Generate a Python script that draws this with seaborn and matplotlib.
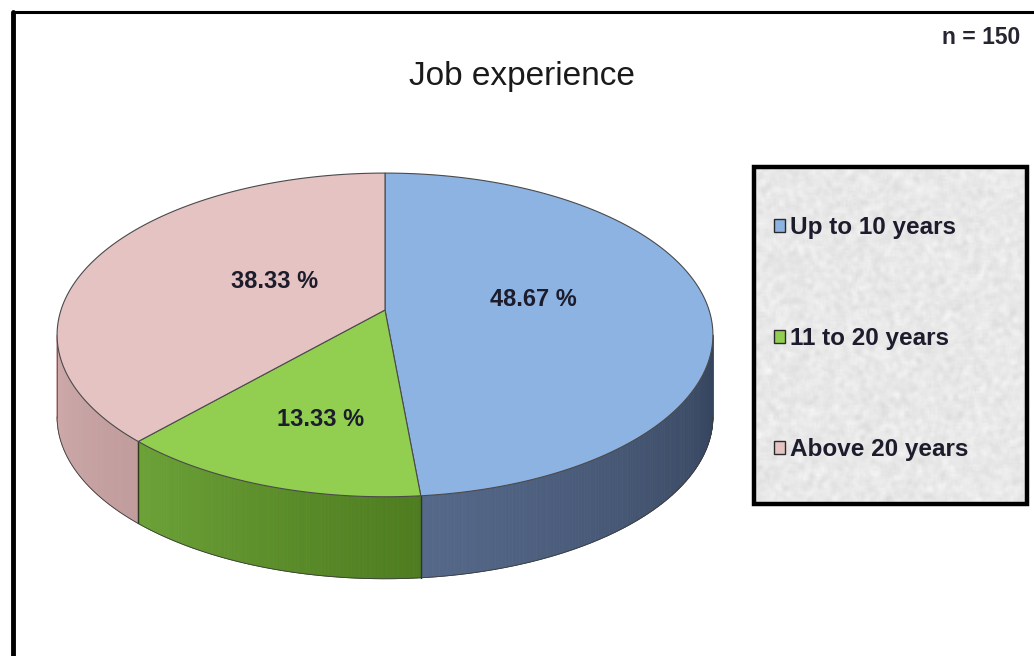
import numpy as np
import matplotlib
matplotlib.use("Agg")
import matplotlib.pyplot as plt
import seaborn as sns
from matplotlib.patches import Polygon, Rectangle, Patch
from matplotlib.colors import to_rgb

# Job experience of respondents (n = 150)
categories = ["Up to 10 years", "11 to 20 years", "Above 20 years"]
shares = [48.67, 13.33, 38.33]
top_colors = ["#8db3e2", "#92cf50", "#e5c3c3"]
side_light = ["#56698a", "#6ca237", "#cfabab"]
side_dark = ["#33425b", "#4e7c20", "#c09c9c"]
title = "Job experience"
sample_note = "n = 150"

sns.set_theme(style="white")
plt.rcParams["font.family"] = ["Liberation Sans", "DejaVu Sans"]

W, H = 1034, 656
fig = plt.figure(figsize=(W / 100, H / 100), dpi=100)
ax = fig.add_axes([0, 0, 1, 1])
ax.set_xlim(0, W)
ax.set_ylim(H, 0)
ax.axis("off")

# outer chart frame (only the top and left edges fall inside the canvas)
ax.plot([13, 13, W + 5], [H + 5, 12, 12], color="black", lw=2.2,
        solid_joinstyle="miter", zorder=1)
ax.plot([13, 13], [12, H + 5], color="black", lw=3.5, zorder=1)

# perspective projection of a tilted disc
cx, cy, A, B, e, depth = 385.0, 310.0, 324.0, 158.0, 0.154, 82.0


def proj(t, drop=0.0):
    X, Z = np.sin(t), np.cos(t)
    w = 1 + e * Z
    return cx + A * X / w, cy - B * Z / w + drop


fracs = np.array(shares) / np.sum(shares)
bounds = np.concatenate([[0], np.cumsum(fracs)]) * 2 * np.pi
t_vis0 = np.arccos(-e)
t_vis1 = 2 * np.pi - t_vis0

# side walls, shaded from light to dark along the rim
for i in range(len(shares)):
    a0, a1 = max(bounds[i], t_vis0), min(bounds[i + 1], t_vis1)
    if a1 <= a0:
        continue
    n = max(int((a1 - a0) / 0.01), 2)
    ts = np.linspace(a0, a1, n + 1)
    c_lo, c_hi = np.array(to_rgb(side_light[i])), np.array(to_rgb(side_dark[i]))
    for k in range(n):
        tm = 0.5 * (ts[k] + ts[k + 1])
        # lighter at the slice's left end (larger angle), darker at the right
        f = (a1 - tm) / (a1 - a0)
        col = c_lo * (1 - f) + c_hi * f
        xa, ya = proj(ts[k])
        xb, yb = proj(ts[k + 1])
        quad = [(xa, ya), (xb, yb), (xb, yb + depth), (xa, ya + depth)]
        ax.add_patch(Polygon(quad, closed=True, facecolor=col, edgecolor=col,
                             lw=0.6, zorder=2))
    # seams and outline of the wall
    for tb in (a0, a1):
        if t_vis0 < tb < t_vis1:
            x0, y0 = proj(tb)
            ax.plot([x0, x0], [y0, y0 + depth], color="#2d3a1e", lw=0.9, zorder=3)
    tt = np.linspace(a0, a1, 200)
    xb, yb = proj(tt, depth)
    ax.plot(xb, yb, color="#3c3c3c", lw=0.6, zorder=3)

# left and right silhouettes of the wall
for tb in (t_vis0, t_vis1):
    x0, y0 = proj(tb)
    ax.plot([x0, x0], [y0, y0 + depth], color="#555555", lw=0.6, zorder=3)

# top faces
for i in range(len(shares)):
    tt = np.linspace(bounds[i], bounds[i + 1], 300)
    xs, ys = proj(tt)
    pts = np.column_stack([np.r_[cx, xs], np.r_[cy, ys]])
    ax.add_patch(Polygon(pts, closed=True, facecolor=top_colors[i],
                         edgecolor="#4a4a4a", lw=0.8, zorder=4))

# percentage labels on the top faces (blue, green, pink)
label_pos = [(533, 300), (321, 419), (275, 281)]
for v, (lx, ly) in zip(shares, label_pos):
    ax.text(lx, ly, f"{v:.2f} %", ha="center", va="center", fontsize=17,
            fontweight="bold", color="#1c1c2c", zorder=6)

ax.text(522, 76, title, ha="center", va="center", fontsize=24, color="#1a1a1a")
ax.text(1020, 38, sample_note, ha="right", va="center", fontsize=16.5,
        fontweight="bold", color="#262632")

# legend panel with a speckled paper texture
lx0, ly0, lx1, ly1 = 754, 167, 1027, 504
rng = np.random.default_rng(3)
tex = rng.normal(0.0, 1.0, (170, 140))
k = np.ones(3) / 3
tex = np.apply_along_axis(lambda r: np.convolve(r, k, mode="same"), 1, tex)
tex = np.apply_along_axis(lambda c: np.convolve(c, k, mode="same"), 0, tex)
tex = np.clip(0.91 + 0.045 * tex, 0.78, 1.0)
ax.imshow(tex, cmap="gray", vmin=0, vmax=1, extent=(lx0, lx1, ly1, ly0),
          aspect="auto", interpolation="bilinear", zorder=5)
ax.add_patch(Rectangle((lx0, ly0), lx1 - lx0, ly1 - ly0, fill=False,
                       edgecolor="black", lw=3.2, zorder=6))
ax.set_xlim(0, W)
ax.set_ylim(H, 0)

handles = [Patch(facecolor=c, edgecolor="#2a2a2a", lw=1.0) for c in top_colors]
leg = ax.legend(handles, categories, loc="center left",
                bbox_to_anchor=(lx0 + 8, (ly0 + ly1) / 2 + 3), bbox_transform=ax.transData,
                frameon=False, handlelength=0.45, handleheight=0.45,
                handletextpad=0.2, labelspacing=3.62, borderpad=0,
                prop={"weight": "bold", "size": 17.5})
leg.set_zorder(7)
for t in leg.get_texts():
    t.set_color("#1c1c2c")

fig.savefig("out.png", dpi=100)
